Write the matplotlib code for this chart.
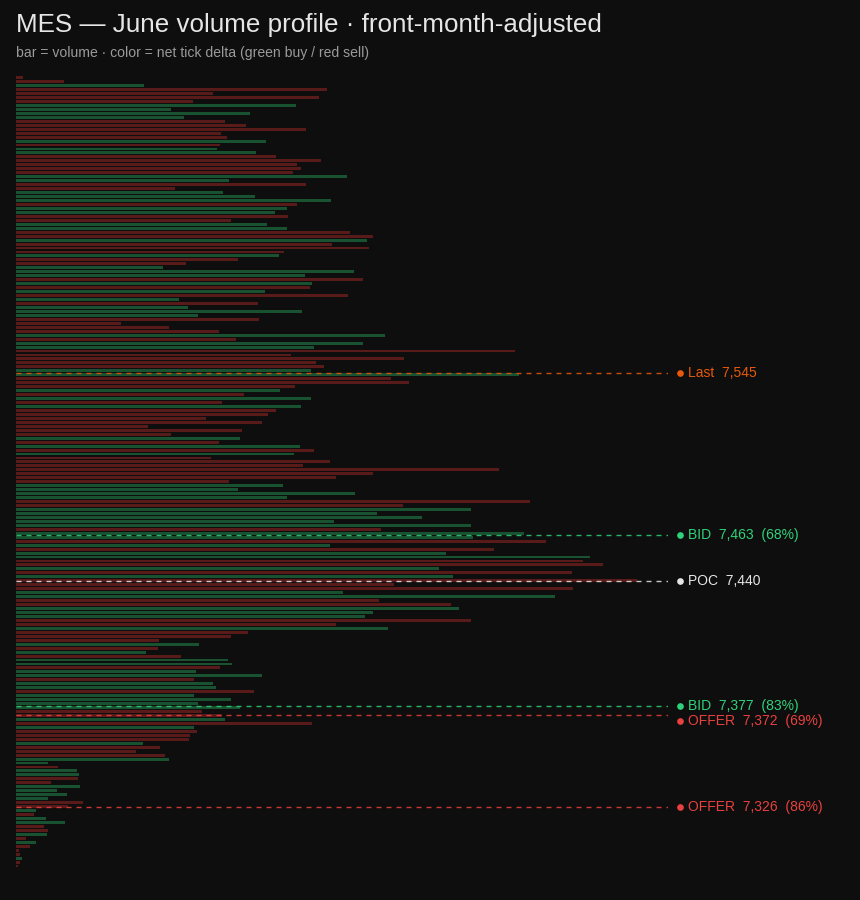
import numpy as np
import matplotlib
matplotlib.use("Agg")
import matplotlib.pyplot as plt
import matplotlib.transforms as mtransforms

# price ladder, top -> bottom, 2 pt per row
top_price = 7694
step = 2
volume = [
    7, 48, 128, 311, 197, 303, 177, 280, 155, 234,
    168, 209, 230, 290, 205, 211, 250, 204, 201, 240,
    260, 305, 281, 285, 277, 331, 213, 290, 159, 207,
    239, 315, 281, 271, 259, 272, 215, 251, 271, 334,
    357, 351, 316, 353, 268, 263, 222, 170, 147, 338,
    289, 347, 296, 294, 249, 332, 163, 242, 172, 286,
    182, 243, 105, 153, 203, 369, 220, 347, 298, 499,
    275, 388, 300, 308, 295, 503, 375, 393, 279, 264,
    228, 295, 206, 285, 260, 252, 190, 246, 132, 226,
    155, 224, 203, 284, 298, 278, 195, 314, 287, 483,
    357, 320, 213, 267, 222, 339, 271, 514, 387, 455,
    361, 406, 318, 455, 365, 508, 457, 530, 314, 478,
    430, 574, 567, 587, 423, 556, 437, 621, 378, 557,
    327, 539, 363, 435, 443, 357, 349, 455, 320, 372,
    232, 215, 143, 183, 142, 130, 165, 212, 216, 204,
    180, 246, 178, 197, 200, 238, 178, 215, 182, 224,
    186, 206, 209, 296, 178, 181, 174, 173, 127, 144,
    120, 149, 153, 32, 42, 61, 63, 62, 35, 64,
    41, 51, 32, 67, 52, 20, 18, 30, 49, 28,
    32, 31, 10, 20, 14, 3, 4, 6, 4, 2,
]
# net tick delta sign per row: G = buy, R = sell
delta_side = (
    "RRGRRRRGGG" "GRRRRRGRGG" "RRRRRGGRRG" "GGRGGRRGGR" "RGRRRGRRGG"
    "GRGRGRGRGG" "GRRRRGRGGR" "RRRRGGRRRG" "RGRGRRRRRR" "RGRGRGRRRR"
    "RRRGGGGRRG" "GGGGRGGRGR" "GGRRGRGRRR" "GGRRGGGRRG" "RRRGRGRGGR"
    "GGRGGRGGGG" "RRGRGRRRGR" "RRGGRGGRRG" "GGGRRGRGGR" "RGRGRRRGRR"
)

level_names = ["Last", "BID", "POC", "BID", "OFFER", "OFFER"]
level_prices = [7545, 7463, 7440, 7377, 7372, 7326]
level_pct = [None, 68, None, 83, 69, 86]

BG = "#0e0e0e"
GREEN = "#2ecc71"
RED = "#e03131"
level_colors = {"Last": "#e8590c", "BID": "#2fd27a", "POC": "#e6e6e6", "OFFER": "#e8413f"}

prices = top_price - step * np.arange(len(volume))
vol = np.array(volume, dtype=float)
cols = [GREEN if s == "G" else RED for s in delta_side]

plt.rcParams['font.family'] = ['Liberation Sans', 'DejaVu Sans']
fig = plt.figure(figsize=(8.6, 9.0), dpi=100, facecolor=BG)
ax = fig.add_axes([16/860, 1-868/900, 652/860, 792.3/900])
ax.set_facecolor(BG)

ax.barh(prices, vol, height=step*0.74, color=cols, alpha=0.36,
        linewidth=0, align='center')

ax.set_xlim(0, vol.max()*1.05)
ax.set_ylim(top_price - step*len(volume) + 1, top_price + 1)
for s in ax.spines.values():
    s.set_visible(False)
ax.set_xticks([]); ax.set_yticks([])

# push labels apart when two levels sit too close
px_per_pt = 792.3 / (step*len(volume))
min_gap = 15 / px_per_pt
label_y = []
for p in level_prices:
    y = p
    if label_y and label_y[-1] - y < min_gap:
        y = label_y[-1] - min_gap
    label_y.append(y)

trans = mtransforms.blended_transform_factory(ax.transAxes, ax.transData)
for name, p, ly, pct in zip(level_names, level_prices, label_y, level_pct):
    c = level_colors[name]
    ax.axhline(p, color=c, lw=1.0, ls=(0, (3.6, 3.6)), alpha=0.85)
    ax.plot([1 + 12/652], [ly], marker='o', ms=3.8, color=c, transform=trans, clip_on=False)
    label = "%s  %s" % (name, format(p, ","))
    if pct is not None:
        label += "  (%d%%)" % pct
    ax.text(1 + 20/652, ly, label, color=c, fontsize=10, va='center', ha='left',
            transform=trans, clip_on=False)

fig.text(16/860, 1-25/900, "MES \u2014 June volume profile \u00b7 front-month-adjusted",
         color="#e6e6e6", fontsize=18.7, va='center', ha='left')
fig.text(16/860, 1-52.5/900, "bar = volume \u00b7 color = net tick delta (green buy / red sell)",
         color="#9a9a9a", fontsize=10.1, va='center', ha='left')

fig.savefig("out.png", dpi=100, facecolor=BG)
